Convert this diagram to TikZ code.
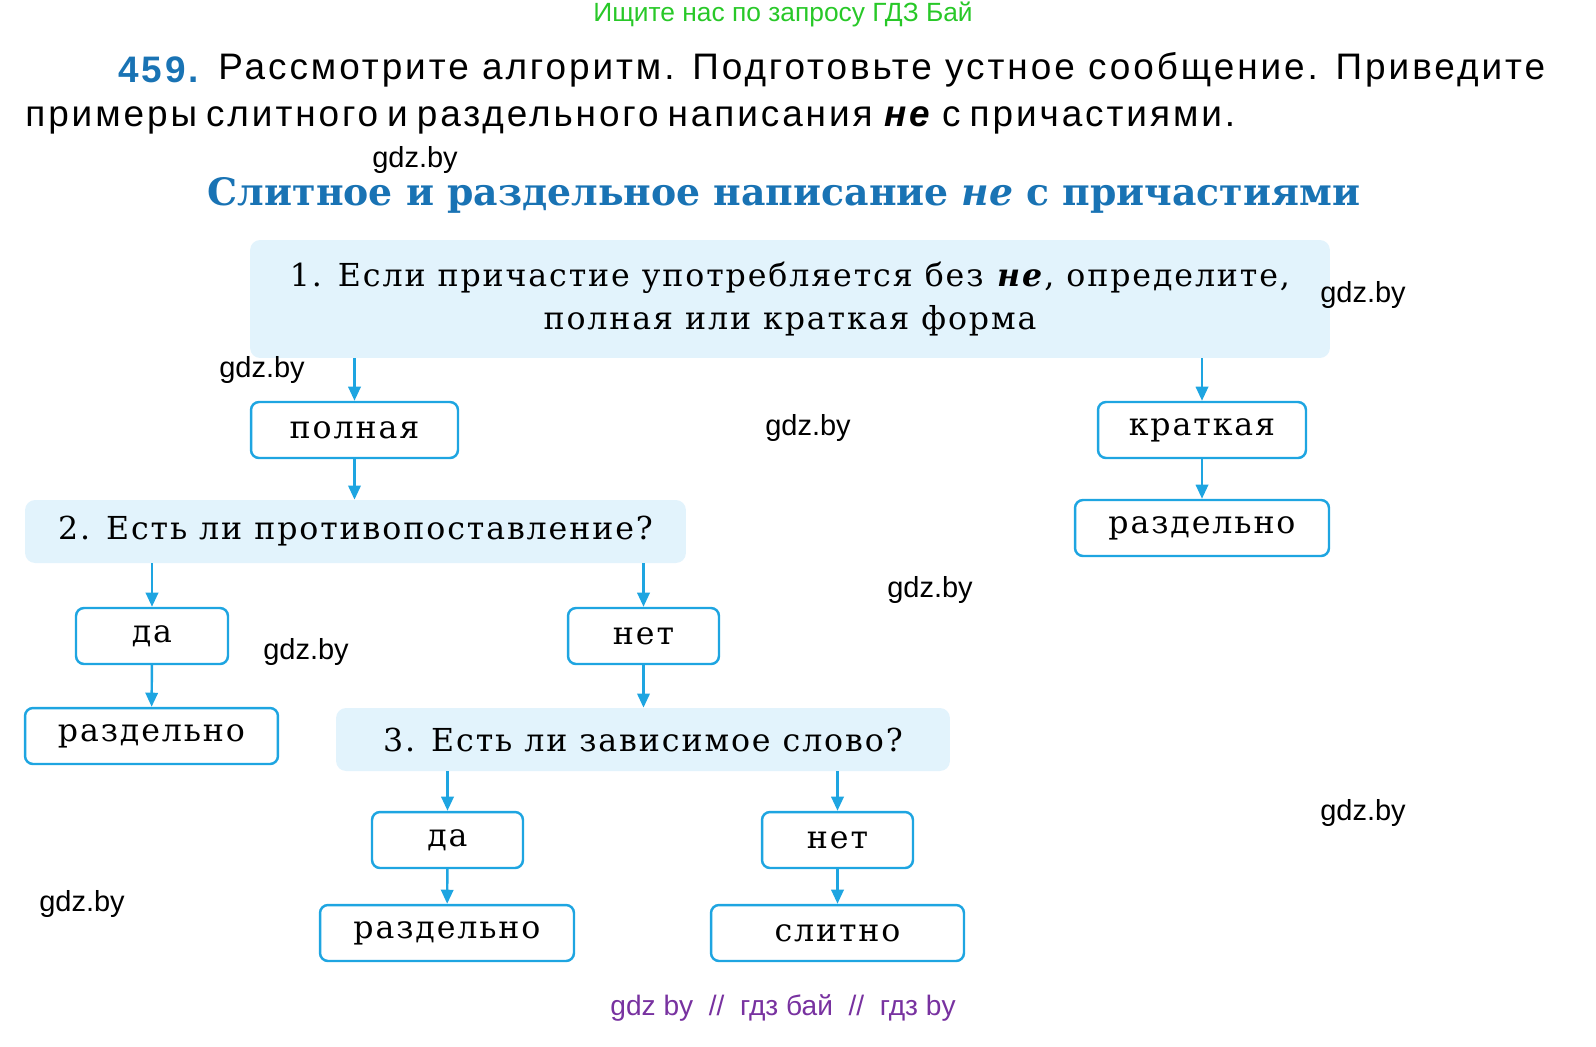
\documentclass[tikz,border=0pt]{standalone}
\usepackage{fontspec}
\setmainfont{DejaVu Serif}
\setsansfont{Liberation Sans}
\usetikzlibrary{arrows.meta}
\definecolor{cyanline}{RGB}{30,165,225}
\definecolor{qfill}{RGB}{226,243,252}
\definecolor{titleblue}{RGB}{25,115,180}
\definecolor{topgreen}{RGB}{40,200,40}
\definecolor{footviolet}{RGB}{120,50,160}
\newcommand{\boxfont}{\fontsize{18}{24}\selectfont\addfontfeature{LetterSpace=6}}
\newcommand{\taskfont}{\sffamily\fontsize{21}{24}\selectfont\addfontfeature{LetterSpace=8}}
\tikzset{
  answer/.style={rectangle, rounded corners=0.16cm, draw=cyanline, line width=1.4pt, fill=white, minimum height=1.12cm, inner sep=0pt, font=\boxfont},
  question/.style={rectangle, rounded corners=0.2cm, fill=qfill, inner sep=0pt, align=center, font=\boxfont},
  arrow/.style={draw=cyanline, line width=1.4pt, -{Triangle[width=7pt,length=8pt]}},
  wmark/.style={font=\sffamily\fontsize{16.5}{18}\selectfont}
}
\begin{document}
\begin{tikzpicture}[x=0.02cm, y=-0.02cm]
	\useasboundingbox (0,0) rectangle (1596,1046);
	% header and task text
	\node (top) [text=topgreen, font=\sffamily\fontsize{15}{16}\selectfont] at (783,14) {Ищите нас по запросу ГДЗ Бай};
	\node (num) [anchor=west, inner sep=0pt, text=titleblue, font=\taskfont\bfseries] at (118,70) {459.};
	\node (line1) [anchor=west, inner sep=0pt, font=\taskfont] at (218,70) {\makebox[26.54cm][s]{Рассмотрите алгоритм. Подготовьте устное сообщение. Приведите}};
	\node (line2) [anchor=west, inner sep=0pt, font=\taskfont] at (25,120) {\makebox[24.2cm][s]{примеры слитного и раздельного написания \textbf{\textit{не}} с причастиями.}};
	\node (title) [text=titleblue, font=\bfseries\fontsize{21.5}{24}\selectfont] at (784,195) {Слитное и раздельное написание \textit{не} с причастиями};

	% question boxes
	\node (q1) [question, minimum width=21.6cm, minimum height=2.36cm] at (790,299) {1. Если причастие употребляется без \textbf{\textit{не}}, определите,\\полная или краткая форма};
	\node (q2) [question, minimum width=13.22cm, minimum height=1.26cm] at (355.5,531.5) {2. Есть ли противопоставление?};
	\node (q3) [question, minimum width=12.28cm, minimum height=1.26cm] at (643,739.5) {3. Есть ли зависимое слово?};

	% answer boxes
	\node (full) [answer, minimum width=4.14cm] at (354.5,430) {полная};
	\node (short) [answer, minimum width=4.16cm] at (1202,430) {краткая};
	\node (sep1) [answer, minimum width=5.08cm] at (1202,528) {раздельно};
	\node (yes1) [answer, minimum width=3.04cm] at (152,636) {да};
	\node (no1) [answer, minimum width=3.02cm] at (643.5,636) {нет};
	\node (sep2) [answer, minimum width=5.06cm] at (151.5,736) {раздельно};
	\node (yes2) [answer, minimum width=3.02cm] at (447.5,840) {да};
	\node (no2) [answer, minimum width=3.02cm] at (837.5,840) {нет};
	\node (sep3) [answer, minimum width=5.08cm] at (447,933) {раздельно};
	\node (joint) [answer, minimum width=5.06cm] at (837.5,933) {слитно};

	% arrows
	\draw [arrow] (q1.south -| full) -- (full);
	\draw [arrow] (q1.south -| short) -- (short);
	\draw [arrow] (short) -- (sep1);
	\draw [arrow] (full) -- (full |- q2.north);
	\draw [arrow] (q2.south -| yes1) -- (yes1);
	\draw [arrow] (q2.south -| no1) -- (no1);
	\draw [arrow] (yes1) -- (sep2);
	\draw [arrow] (no1) -- (q3.north -| no1);
	\draw [arrow] (q3.south -| yes2) -- (yes2);
	\draw [arrow] (q3.south -| no2) -- (no2);
	\draw [arrow] (yes2) -- (sep3);
	\draw [arrow] (no2) -- (joint);

	% watermarks
	\node (m1) [wmark] at (415,160) {gdz.by};
	\node (m2) [wmark] at (1363,295) {gdz.by};
	\node (m3) [wmark] at (262,370) {gdz.by};
	\node (m4) [wmark] at (808,428) {gdz.by};
	\node (m5) [wmark] at (930,590) {gdz.by};
	\node (m6) [wmark] at (306,652) {gdz.by};
	\node (m7) [wmark] at (1363,813) {gdz.by};
	\node (m8) [wmark] at (82,904) {gdz.by};
	\node (foot) [text=footviolet, font=\sffamily\fontsize{16}{18}\selectfont] at (783,1008) {gdz by \ // \ гдз бай \ // \ гдз by};
\end{tikzpicture}
\end{document}
